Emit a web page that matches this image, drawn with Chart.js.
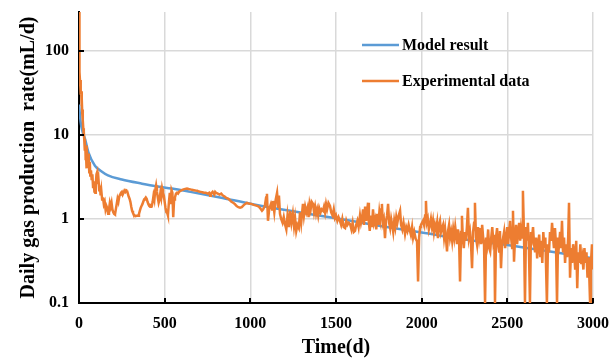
<!DOCTYPE html>
<html lang="en">
<head>
  <meta charset="UTF-8">
  <title>Daily gas production rate</title>
  <script src="https://cdn.jsdelivr.net/npm/chart.js"></script>
  <style>
    html, body { margin: 0; padding: 0; background: #fff; }
    #wrap { width: 611px; height: 358px; position: relative; }
  </style>
</head>
<body>
  <div id="wrap"><canvas id="chart"></canvas></div>

  <script>
    const modelDays = [0, 10, 20, 35, 55, 93, 130, 169, 250, 368, 450, 543, 650, 823, 1000, 1232, 1500, 1750, 2000, 2250, 2500, 2750, 3000];
    const modelRate = [23, 14, 11, 9, 6.2, 4.3, 3.7, 3.3, 2.95, 2.63, 2.45, 2.3, 2.1, 1.8, 1.52, 1.25, 1.02, 0.83, 0.69, 0.57, 0.49, 0.41, 0.34];

    const expDays = [
      0, 1, 2, 3, 5, 7, 9, 11, 13, 15, 17, 19, 21, 23, 25, 27, 29, 31, 33, 35, 37, 39, 41, 43, 45, 48, 51, 54, 57, 60,
      63, 66, 70, 74, 78, 82, 86, 90, 94, 98, 102, 106, 110, 114, 118, 122, 126, 130, 135, 140, 145, 150, 155, 160, 165, 170, 175, 180, 185, 190,
      195, 200, 205, 210, 215, 220, 225, 230, 235, 240, 245, 250, 255, 260, 265, 270, 275, 280, 285, 290, 295, 300, 305, 310, 315, 320, 325, 330, 335, 340,
      345, 350, 355, 360, 365, 370, 375, 380, 385, 390, 395, 400, 405, 410, 415, 420, 425, 430, 435, 440, 445, 450, 455, 460, 465, 470, 475, 480, 485, 490,
      495, 500, 505, 510, 515, 519, 525, 530, 535, 540, 545, 550, 555, 560, 566, 572, 578, 584, 590, 600, 610, 620, 630, 640, 650, 660, 670, 680, 690, 700,
      710, 720, 730, 740, 750, 760, 765, 770, 780, 790, 795, 800, 810, 820, 830, 840, 850, 860, 870, 880, 890, 900, 910, 920, 930, 940, 950, 960, 970, 980,
      990, 1000, 1010, 1020, 1030, 1040, 1050, 1060, 1068, 1075, 1085, 1092, 1097, 1103, 1110, 1120, 1127, 1132, 1140, 1148, 1156, 1162, 1167, 1173, 1180, 1188, 1195, 1202, 1210, 1217,
      1225, 1232, 1240, 1248, 1255, 1261, 1268, 1275, 1283, 1290, 1297, 1307, 1313, 1320, 1327, 1334, 1340, 1346, 1352, 1358, 1366, 1372, 1378, 1384, 1390, 1396, 1402, 1410, 1416, 1424,
      1430, 1436, 1442, 1448, 1456, 1465, 1472, 1480, 1487, 1494, 1500, 1508, 1515, 1523, 1530, 1537, 1545, 1553, 1560, 1567, 1575, 1582, 1590, 1597, 1604, 1611, 1618, 1625, 1632, 1640,
      1646, 1652, 1658, 1663, 1670, 1676, 1681, 1687, 1692, 1697, 1703, 1710, 1716, 1722, 1728, 1735, 1741, 1747, 1753, 1758, 1763, 1768, 1773, 1779, 1786, 1792, 1798, 1804, 1810, 1816,
      1822, 1828, 1834, 1840, 1846, 1852, 1858, 1866, 1874, 1880, 1887, 1894, 1903, 1910, 1917, 1924, 1930, 1937, 1944, 1950, 1957, 1965, 1973, 1979, 1985, 1991, 1996, 2002, 2008, 2014,
      2020, 2025, 2030, 2036, 2042, 2048, 2054, 2060, 2066, 2072, 2078, 2084, 2090, 2095, 2101, 2107, 2113, 2119, 2125, 2131, 2137, 2143, 2148, 2154, 2160, 2166, 2172, 2178, 2184, 2190,
      2196, 2201, 2206, 2212, 2218, 2224, 2230, 2235, 2240, 2246, 2252, 2258, 2264, 2270, 2276, 2282, 2288, 2294, 2300, 2306, 2311, 2317, 2323, 2329, 2335, 2341, 2347, 2353, 2359, 2364,
      2370, 2376, 2382, 2388, 2394, 2400, 2406, 2412, 2418, 2424, 2428, 2434, 2440, 2446, 2452, 2457, 2463, 2469, 2475, 2481, 2487, 2493, 2499, 2505, 2510, 2516, 2522, 2528, 2533, 2539,
      2545, 2551, 2557, 2563, 2569, 2575, 2580, 2586, 2591, 2597, 2603, 2609, 2614, 2620, 2626, 2632, 2638, 2644, 2650, 2656, 2662, 2668, 2674, 2680, 2686, 2692, 2698, 2704, 2710, 2716,
      2722, 2731, 2737, 2743, 2749, 2755, 2761, 2767, 2772, 2778, 2784, 2790, 2796, 2802, 2808, 2813, 2819, 2825, 2831, 2837, 2843, 2849, 2855, 2860, 2866, 2872, 2878, 2884, 2890, 2896,
      2902, 2908, 2914, 2920, 2926, 2932, 2938, 2944, 2950, 2956, 2962, 2968, 2975, 2983, 2988, 2994, 3000
    ];
    const expRate = [
      290, 180, 120, 75, 56, 40, 45, 30, 33, 22, 27, 18, 20, 15, 12, 10, 11, 8.5, 9, 6.5, 7.5, 5, 6, 4, 7.5, 5.5, 4.2, 6, 4.7, 3.6,
      4.8, 3.3, 3.8, 2.9, 3.4, 2.4, 2.8, 2.1, 2.05, 2.6, 3.4, 3.6, 2.6, 2.9, 2.2, 2.5, 1.9, 2.2, 1.7, 1.8, 1.5, 1.6, 1.3, 1.43, 1.35, 1.15, 1.3, 1.55, 1.4, 1.56,
      1.3, 1.2, 1.15, 1.13, 1.3, 1.5, 1.74, 1.6, 1.85, 1.95, 2.05, 2.1, 1.95, 2.05, 2.17, 2.1, 2.2, 2.17, 2.0, 1.85, 1.74, 1.6, 1.4, 1.25, 1.18, 1.12, 1.1, 1.08, 1.09, 1.1,
      1.09, 1.15, 1.25, 1.35, 1.43, 1.5, 1.6, 1.7, 1.74, 1.8, 1.74, 1.6, 1.5, 1.43, 1.4, 1.45, 1.43, 1.6, 1.9, 1.7, 2.2, 2.5, 2.1, 1.8, 1.56, 1.7, 2.05, 1.8, 2.3, 2.05,
      1.9, 1.6, 1.35, 1.2, 1.18, 1.1, 1.6, 2.05, 1.5, 2.2, 2.05, 1.05, 1.7, 1.8, 2.0, 2.05, 2.0, 2.1, 2.15, 2.2, 2.25, 2.28, 2.3, 2.27, 2.25, 2.22, 2.2, 2.18, 2.17, 2.12,
      2.1, 2.08, 2.05, 2.05, 2.0, 2.05, 1.89, 2.0, 2.1, 1.95, 2.1, 2.05, 2.0, 1.95, 2.0, 1.9, 1.85, 1.78, 1.75, 1.68, 1.6, 1.56, 1.5, 1.42, 1.38, 1.36, 1.38, 1.45, 1.51, 1.55,
      1.53, 1.52, 1.5, 1.47, 1.45, 1.43, 1.4, 1.32, 1.25, 1.3, 1.45, 1.8, 1.99, 0.95, 1.3, 1.5, 1.3, 1.64, 1.2, 1.7, 2.05, 1.4, 1.9, 1.15, 1.0, 0.9, 1.05, 0.87, 0.75, 1.1,
      0.8, 1.25, 0.9, 1.15, 0.82, 1.03, 0.72, 0.85, 0.78, 1.2, 0.9, 1.51, 1.1, 1.4, 1.2, 1.36, 1.05, 1.5, 1.3, 1.6, 1.51, 1.2, 1.4, 1.15, 1.3, 1.1, 1.35, 1.2, 1.3, 1.25,
      1.4, 1.2, 1.5, 1.3, 1.55, 1.43, 1.2, 1.1, 1.3, 1.03, 1.1, 0.95, 1.05, 0.95, 0.85, 1.0, 0.8, 0.78, 0.95, 0.85, 0.9, 0.87, 0.75, 0.9, 0.7, 0.72, 0.85, 0.95, 0.8, 1.1,
      0.9, 1.03, 1.3, 0.85, 1.4, 0.95, 1.2, 1.56, 0.9, 0.72, 1.1, 0.8, 1.3, 0.9, 1.0, 0.75, 1.15, 0.85, 1.2, 1.0, 1.3, 1.51, 0.9, 1.0, 0.59, 0.95, 1.1, 1.51, 0.9, 0.78,
      1.0, 0.85, 0.7, 0.95, 0.8, 1.05, 0.9, 1.1, 1.25, 0.85, 0.75, 0.9, 0.66, 0.8, 0.72, 0.85, 0.75, 0.65, 0.8, 0.6, 0.7, 0.58, 0.54, 0.18, 0.6, 0.8, 0.85, 0.9, 0.95, 0.85,
      1.1, 1.64, 0.9, 1.0, 0.75, 0.85, 1.0, 0.8, 0.95, 0.7, 0.85, 0.75, 0.9, 0.59, 0.85, 0.95, 0.7, 0.78, 0.85, 0.6, 0.75, 0.55, 0.41, 0.72, 0.85, 0.6, 0.7, 0.55, 0.75, 0.6,
      0.8, 0.65, 0.5, 0.75, 0.6, 0.18, 0.7, 1.09, 0.6, 0.45, 0.7, 0.55, 0.8, 1.36, 0.6, 0.7, 0.5, 0.26, 0.7, 0.9, 1.56, 0.6, 0.5, 0.8, 0.6, 0.78, 0.5, 0.85, 0.6, 0.5,
      0.1, 0.6, 0.5, 0.75, 0.45, 0.41, 0.6, 0.8, 0.55, 0.65, 0.1, 0.6, 0.78, 0.5, 0.41, 0.72, 0.26, 0.5, 0.59, 0.7, 0.45, 0.6, 0.8, 0.5, 0.7, 0.95, 0.6, 0.45, 1.25, 0.31,
      0.6, 0.85, 0.5, 0.7, 0.9, 0.55, 0.75, 0.6, 2.17, 0.7, 0.1, 0.8, 0.55, 0.9, 0.45, 0.1, 0.7, 0.6, 0.8, 0.5, 0.4, 0.6, 0.34, 0.5, 0.65, 0.35, 0.55, 0.3, 0.7, 0.45,
      0.6, 0.1, 0.5, 0.4, 0.7, 0.55, 0.9, 0.6, 0.45, 0.78, 0.5, 0.1, 0.6, 0.5, 0.7, 0.45, 0.95, 0.4, 0.6, 0.3, 0.5, 0.35, 0.6, 1.56, 0.2, 0.45, 0.3, 0.5, 0.41, 0.25,
      0.55, 0.15, 0.4, 0.3, 0.5, 0.29, 0.35, 0.25, 0.45, 0.3, 0.4, 0.2, 0.35, 0.1, 0.3, 0.5, 0.25
    ];

    const xTicks = [0, 500, 1000, 1500, 2000, 2500, 3000];
    const yTicks = [0.1, 1, 10, 100];

    const seriesNames = ['Model result', 'Experimental data'];
    const seriesColors = ['#5B9BD5', '#ED7D31'];

    const serif = '"Liberation Serif", "Times New Roman", serif';

    // small black tick marks pointing into the plot, like the original
    const innerTicks = {
      id: 'innerTicks',
      afterDatasetsDraw(chart) {
        const { ctx, chartArea, scales } = chart;
        ctx.save();
        ctx.strokeStyle = '#000';
        ctx.lineWidth = 2;
        ctx.beginPath();
        xTicks.slice(1).forEach(v => {
          const px = Math.round(scales.x.getPixelForValue(v));
          ctx.moveTo(px, chartArea.bottom);
          ctx.lineTo(px, chartArea.bottom - 5);
        });
        yTicks.slice(1).forEach(v => {
          const py = Math.round(scales.y.getPixelForValue(v));
          ctx.moveTo(chartArea.left, py);
          ctx.lineTo(chartArea.left + 5, py);
        });
        ctx.stroke();
        ctx.restore();
      }
    };

    const innerLegend = {
      id: 'innerLegend',
      afterDraw(chart) {
        const ctx = chart.ctx;
        const rows = [45, 81];
        ctx.save();
        ctx.font = 'bold 16px ' + serif;
        ctx.textBaseline = 'middle';
        ctx.fillStyle = '#000';
        seriesNames.forEach((name, i) => {
          ctx.strokeStyle = seriesColors[i];
          ctx.lineWidth = 2.5;
          ctx.beginPath();
          ctx.moveTo(362, rows[i]);
          ctx.lineTo(399, rows[i]);
          ctx.stroke();
          ctx.fillText(name, 402, rows[i] + 1);
        });
        ctx.restore();
      }
    };

    // the plot box is fixed by the layout padding, not by label overflow
    function noEdgePadding(s) {
      s.paddingTop = 0;
      s.paddingBottom = 0;
      s.paddingLeft = 0;
      s.paddingRight = 0;
    }

    new Chart(document.getElementById('chart'), {
      type: 'line',
      data: {
        datasets: [
          {
            label: seriesNames[0],
            data: modelDays.map((d, i) => ({ x: d, y: modelRate[i] })),
            borderColor: seriesColors[0],
            borderWidth: 2.5,
            pointRadius: 0,
            cubicInterpolationMode: 'monotone',
            order: 1
          },
          {
            label: seriesNames[1],
            data: expDays.map((d, i) => ({ x: d, y: expRate[i] })),
            borderColor: seriesColors[1],
            borderWidth: 2.5,
            pointRadius: 0,
            tension: 0,
            order: 0
          }
        ]
      },
      options: {
        responsive: true,
        maintainAspectRatio: false,
        animation: false,
        layout: { padding: { top: 12, right: 18, left: 17, bottom: 0 } },
        plugins: {
          legend: { display: false },
          tooltip: { enabled: false }
        },
        scales: {
          x: {
            type: 'linear',
            min: 0,
            max: 3000,
            afterBuildTicks: s => { s.ticks = xTicks.map(v => ({ value: v })); },
            afterFit: s => { s.height = 55; noEdgePadding(s); },
            border: { color: '#000', width: 2 },
            grid: { color: '#d9d9d9', lineWidth: 1.5, drawTicks: false },
            ticks: {
              color: '#000',
              padding: 11,
              maxRotation: 0,
              font: { family: serif, size: 16, weight: 'bold' },
              callback: v => String(v)
            },
            title: {
              display: true,
              text: 'Time(d)',
              color: '#000',
              padding: { top: 0, bottom: -2 },
              font: { family: serif, size: 20, weight: 'bold' }
            }
          },
          y: {
            type: 'logarithmic',
            min: 0.1,
            max: 290,
            afterBuildTicks: s => { s.ticks = yTicks.map(v => ({ value: v })); },
            afterFit: s => { s.width = 62; noEdgePadding(s); },
            border: { color: '#000', width: 2 },
            grid: { color: '#d9d9d9', lineWidth: 1.5, drawTicks: false },
            ticks: {
              color: '#000',
              padding: 10,
              font: { family: serif, size: 16, weight: 'bold' },
              callback: v => String(v)
            },
            title: {
              display: true,
              text: 'Daily gas production  rate(mL/d)',
              color: '#000',
              padding: { top: 0, bottom: 0 },
              font: { family: serif, size: 20, weight: 'bold' }
            }
          }
        }
      },
      plugins: [innerTicks, innerLegend]
    });
  </script>
</body>
</html>
